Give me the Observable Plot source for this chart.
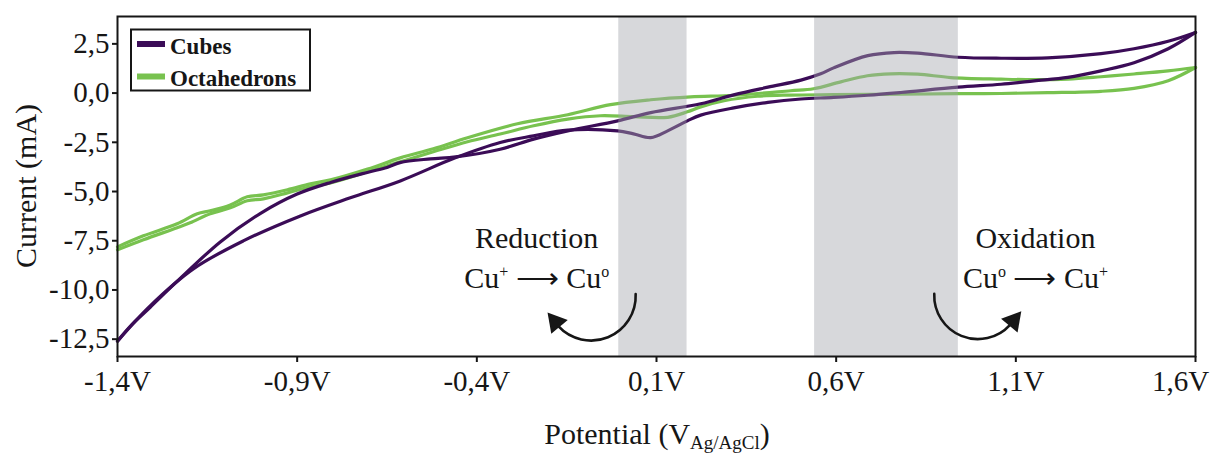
<!DOCTYPE html>
<html>
<head>
<meta charset="utf-8">
<script src="https://cdn.jsdelivr.net/npm/d3@7"></script>
<script src="https://cdn.jsdelivr.net/npm/@observablehq/plot@0.6"></script>
<style>
  html, body { margin: 0; padding: 0; background: #fff; overflow: hidden; }
</style>
</head>
<body>
<div id="chart"></div>
<script>
// ---------- data ----------
const seriesNames = ["Cubes", "Octahedrons"];
const seriesColors = ["#3b0c57", "#78c24f"];
const xTicks = [-1.4, -0.9, -0.4, 0.1, 0.6, 1.1, 1.6];
const yTicks = [-12.5, -10, -7.5, -5, -2.5, 0, 2.5];

// Cubes, anodic (forward) scan, -1.4 V -> 1.6 V
const cubesFwdV = [-1.40,-1.36,-1.309,-1.235,-1.114,-1.003,-0.900,-0.807,-0.705,-0.650,-0.614,-0.529,-0.459,-0.335,-0.242,-0.147,-0.008,0.084,0.223,0.315,0.410,0.502,0.557,0.593,0.688,0.761,0.827,0.939,1.059,1.189,1.337,1.429,1.524,1.600];
const cubesFwdI = [-12.60,-11.76,-10.88,-9.58,-7.56,-6.12,-5.13,-4.54,-4.03,-3.78,-3.53,-3.34,-3.24,-2.85,-2.34,-1.92,-1.41,-0.99,-0.54,-0.09,0.30,0.66,0.98,1.28,1.90,2.06,2.03,1.82,1.77,1.79,2.00,2.25,2.63,3.08];
// Cubes, cathodic (reverse) scan, 1.6 V -> -1.4 V
const cubesRevV = [1.600,1.524,1.429,1.337,1.245,1.151,1.059,0.939,0.780,0.688,0.593,0.502,0.410,0.315,0.223,0.186,0.131,0.084,0.036,-0.008,-0.147,-0.242,-0.335,-0.460,-0.613,-0.752,-0.891,-1.050,-1.189,-1.309,-1.400];
const cubesRevI = [3.08,2.25,1.54,1.13,0.80,0.62,0.45,0.30,0.03,-0.11,-0.22,-0.30,-0.47,-0.75,-1.12,-1.41,-1.92,-2.26,-2.07,-1.92,-1.88,-2.17,-2.51,-3.29,-4.46,-5.32,-6.24,-7.51,-8.93,-10.81,-12.60];
// Octahedrons, forward scan
const octaFwdV = [-1.400,-1.328,-1.234,-1.178,-1.142,-1.086,-1.039,-0.994,-0.927,-0.863,-0.807,-0.704,-0.613,-0.521,-0.426,-0.287,-0.147,-0.028,0.084,0.195,0.315,0.473,0.537,0.613,0.687,0.752,0.827,0.919,1.059,1.151,1.245,1.337,1.429,1.524,1.600];
const octaFwdI = [-7.81,-7.25,-6.64,-6.13,-5.98,-5.68,-5.27,-5.17,-4.91,-4.61,-4.41,-3.86,-3.29,-2.83,-2.27,-1.56,-1.10,-0.59,-0.34,-0.19,-0.11,0.12,0.22,0.57,0.88,0.98,0.96,0.79,0.71,0.68,0.71,0.83,0.97,1.13,1.30];
// Octahedrons, reverse scan
const octaRevV = [1.600,1.524,1.429,1.337,1.189,1.059,0.939,0.780,0.593,0.473,0.381,0.288,0.223,0.186,0.131,0.036,-0.056,-0.147,-0.242,-0.335,-0.426,-0.521,-0.613,-0.704,-0.807,-0.863,-0.927,-0.994,-1.039,-1.086,-1.142,-1.198,-1.234,-1.328,-1.400];
const octaRevI = [1.30,0.63,0.24,0.09,0.02,-0.02,-0.03,-0.06,-0.08,-0.10,-0.16,-0.39,-0.70,-0.95,-1.23,-1.20,-1.15,-1.32,-1.66,-2.08,-2.47,-2.98,-3.49,-4.00,-4.56,-4.76,-5.07,-5.37,-5.47,-5.83,-6.13,-6.59,-6.84,-7.45,-7.96];

// shaded potential windows (V)
const bandStart = [-0.005, 0.54];
const bandEnd = [0.185, 0.94];

// annotations
const annoTitle = ["Reduction", "Oxidation"];
const annoX = [-0.232, 1.156];
const annoTitleI = -7.91;
const annoEqI = -9.91;
const arrowStartV = [0.042, 0.873];
const arrowStartI = [-10.21, -10.20];
const arrowEndV = [-0.174, 1.084];
const arrowEndI = [-11.83, -11.77];
const headV = [-0.181, 1.093];
const headI = [-11.63, -11.57];
const headRotate = [-40, 40];

// ---------- build tables ----------
function branch(series, key, V, I) {
  return V.map((v, i) => ({series, key, V: v, I: I[i]}));
}
const rows = [
  ...branch("Cubes", "c-f", cubesFwdV, cubesFwdI),
  ...branch("Cubes", "c-r", cubesRevV, cubesRevI),
  ...branch("Octahedrons", "o-f", octaFwdV, octaFwdI),
  ...branch("Octahedrons", "o-r", octaRevV, octaRevI)
];
const bands = bandStart.map((s, i) => ({s, e: bandEnd[i]}));
const redArrow = [{x1: arrowStartV[0], y1: arrowStartI[0], x2: arrowEndV[0], y2: arrowEndI[0]}];
const oxArrow = [{x1: arrowStartV[1], y1: arrowStartI[1], x2: arrowEndV[1], y2: arrowEndI[1]}];
const heads = headV.map((v, i) => ({V: v, I: headI[i], r: headRotate[i]}));

const fmt = d => d.toFixed(1).replace(".", ",");
const FONT = "Liberation Serif, Times New Roman, serif";
const INK = "#161616";

const chart = Plot.plot({
  width: 1213,
  height: 454,
  marginLeft: 117,
  marginRight: 18,
  marginTop: 16,
  marginBottom: 98,
  x: {domain: [-1.4, 1.6]},
  y: {domain: [-13.38, 3.89]},
  color: {domain: seriesNames, range: seriesColors},
  style: {fontFamily: FONT, fontSize: "29px", color: INK, background: "#fff"},
  marks: [
    Plot.line(rows.filter(d => d.series === "Octahedrons"), {x: "V", y: "I", z: "key", stroke: "series", strokeWidth: 3.2, curve: "catmull-rom"}),
    Plot.line(rows.filter(d => d.series === "Cubes"), {x: "V", y: "I", z: "key", stroke: "series", strokeWidth: 3.2, curve: "catmull-rom"}),
    Plot.rect(bands, {x1: "s", x2: "e", fill: "rgb(165,166,172)", fillOpacity: 0.44}),
    Plot.arrow(redArrow, {x1: "x1", y1: "y1", x2: "x2", y2: "y2", bend: 70, headLength: 0, stroke: INK, strokeWidth: 2.6}),
    Plot.arrow(oxArrow, {x1: "x1", y1: "y1", x2: "x2", y2: "y2", bend: -70, headLength: 0, stroke: INK, strokeWidth: 2.6}),
    Plot.dot(heads, {x: "V", y: "I", symbol: "triangle", r: 8, rotate: "r", fill: INK, stroke: "none"}),
    Plot.frame({stroke: INK, strokeWidth: 2}),
    Plot.axisX(xTicks, {tickFormat: d => d === 1.6 ? "" : fmt(d) + "V", tickSize: 6, tickPadding: 8, strokeWidth: 2, fontSize: 29, label: null}),
    Plot.axisX([1.6], {tickFormat: d => fmt(d) + "V", tickSize: 0, tickPadding: 14, dx: -15, fontSize: 29, label: null}),
    Plot.axisY(yTicks, {tickFormat: fmt, tickSize: 5, tickPadding: 3, strokeWidth: 2, fontSize: 29, label: null})
  ]
});
document.getElementById("chart").appendChild(chart);

// ---------- extra text (axis titles, annotations, legend) ----------
const svg = d3.select(chart);
const sx = chart.scale("x"), sy = chart.scale("y");

svg.append("text")
  .attr("transform", "translate(36,186) rotate(-90)")
  .attr("text-anchor", "middle").attr("font-size", 30).attr("fill", INK)
  .attr("font-family", FONT)
  .text("Current (mA)");

const xl = svg.append("text").attr("x", 657).attr("y", 444)
  .attr("text-anchor", "middle").attr("font-size", 30).attr("fill", INK).attr("font-family", FONT);
xl.append("tspan").text("Potential (V");
xl.append("tspan").attr("font-size", 19).attr("dy", 5).text("Ag/AgCl");
xl.append("tspan").attr("dy", -5).text(")");

annoTitle.forEach((t, i) => {
  const X = sx.apply(annoX[i]);
  svg.append("text").attr("x", X).attr("y", sy.apply(annoTitleI))
    .attr("text-anchor", "middle").attr("font-size", 30).attr("fill", INK).attr("font-family", FONT)
    .text(t);
  const eq = svg.append("text").attr("x", X).attr("y", sy.apply(annoEqI))
    .attr("text-anchor", "middle").attr("font-size", 30).attr("fill", INK).attr("font-family", FONT);
  const a = i === 0 ? "+" : "o", b = i === 0 ? "o" : "+";
  eq.append("tspan").text("Cu");
  eq.append("tspan").attr("font-size", 16).attr("dy", -11).text(a);
  eq.append("tspan").attr("dy", 11).text(" \u27F6 Cu");
  eq.append("tspan").attr("font-size", 16).attr("dy", -11).text(b);
});

const lg = svg.append("g").attr("font-family", FONT).attr("text-anchor", "start");
lg.append("rect").attr("x", 131).attr("y", 29.5).attr("width", 179).attr("height", 61)
  .attr("fill", "#fff").attr("stroke", INK).attr("stroke-width", 2);
seriesNames.forEach((n, i) => {
  const yy = 44 + i * 32.5;
  lg.append("line").attr("x1", 137).attr("x2", 165).attr("y1", yy).attr("y2", yy)
    .attr("stroke", seriesColors[i]).attr("stroke-width", 6);
  lg.append("text").attr("x", 170).attr("y", yy + 9.5).attr("font-size", 23)
    .attr("text-anchor", "start")
    .attr("font-weight", "bold").attr("fill", INK).text(n);
});
</script>
</body>
</html>
